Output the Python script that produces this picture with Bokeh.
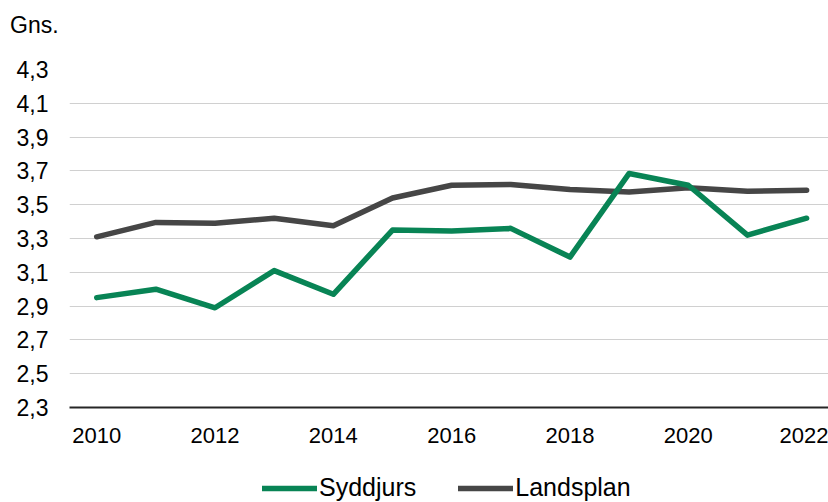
from bokeh.plotting import figure
from bokeh.layouts import column
from bokeh.models import Range1d, FixedTicker, Legend, LegendItem, ColumnDataSource, Div
from bokeh.embed import file_html
from bokeh.resources import INLINE

years = [2010, 2011, 2012, 2013, 2014, 2015, 2016, 2017, 2018, 2019, 2020, 2021, 2022]
syddjurs = [2.95, 3.00, 2.89, 3.11, 2.97, 3.35, 3.345, 3.36, 3.19, 3.685, 3.615, 3.32, 3.42]
landsplan = [3.31, 3.395, 3.39, 3.42, 3.375, 3.54, 3.615, 3.62, 3.59, 3.575, 3.60, 3.58, 3.585]
y_ticks = [2.3, 2.5, 2.7, 2.9, 3.1, 3.3, 3.5, 3.7, 3.9, 4.1, 4.3]
y_tick_labels = ["2,3", "2,5", "2,7", "2,9", "3,1", "3,3", "3,5", "3,7", "3,9", "4,1", "4,3"]
x_ticks = [2010, 2012, 2014, 2016, 2018, 2020, 2022]
series_names = ["Syddjurs", "Landsplan"]
colors = ["#088455", "#464646"]
y_title = "Gns."

FONT = "Liberation Sans"
FS = "22px"

src = ColumnDataSource(dict(x=years, s=syddjurs, l=landsplan))

# unit title above the plot
title_div = Div(text=y_title, width=828, height=40, margin=(0, 0, 0, 0),
                styles={"font-family": FONT, "font-size": "23px", "color": "#000000",
                        "padding-left": "10px", "padding-top": "12px",
                        "line-height": "normal", "box-sizing": "border-box"})

p = figure(width=828, height=412, output_backend="svg", toolbar_location=None,
           x_range=Range1d(2009.54, 2022.37), y_range=Range1d(2.3, 4.3),
           min_border_left=69, min_border_right=0, min_border_top=29, min_border_bottom=45)
p.outline_line_color = None
p.background_fill_color = "white"
p.border_fill_color = "white"

line_kw = dict(line_width=5.5, line_cap="round", line_join="round")
r2 = p.line("x", "l", source=src, line_color=colors[1], **line_kw)
r1 = p.line("x", "s", source=src, line_color=colors[0], **line_kw)

p.xgrid.grid_line_color = None
p.ygrid.grid_line_color = "#d0d0d0"
p.ygrid.grid_line_width = 1

p.yaxis.ticker = FixedTicker(ticks=y_ticks)
p.yaxis.major_label_overrides = {t: lab for t, lab in zip(y_ticks, y_tick_labels)}
p.yaxis.axis_line_color = None
p.yaxis.major_tick_line_color = None
p.yaxis.minor_tick_line_color = None
p.yaxis.major_tick_out = 0
p.yaxis.major_tick_in = 0
p.yaxis.major_label_standoff = 21
p.yaxis.major_label_text_font = FONT
p.yaxis.major_label_text_font_size = "23px"
p.yaxis.major_label_text_color = "#000000"

p.xaxis.ticker = FixedTicker(ticks=x_ticks)
p.xaxis.axis_line_color = "#262626"
p.xaxis.axis_line_width = 2
p.xaxis.major_tick_line_color = None
p.xaxis.minor_tick_line_color = None
p.xaxis.major_tick_out = 0
p.xaxis.major_tick_in = 0
p.xaxis.major_label_standoff = 20
p.xaxis.major_label_text_font = FONT
p.xaxis.major_label_text_font_size = FS
p.xaxis.major_label_text_color = "#000000"

# strip holding the legend (its lines use the same data, outside this strip's view)
lf = figure(width=828, height=50, output_backend="svg", toolbar_location=None,
            x_range=Range1d(0, 1), y_range=Range1d(0, 1),
            min_border_left=69, min_border_right=0, min_border_top=0, min_border_bottom=0)
lf.outline_line_color = None
lf.axis.visible = False
lf.grid.visible = False
lr1 = lf.line("x", "s", source=src, line_color=colors[0], **line_kw)
lr2 = lf.line("x", "l", source=src, line_color=colors[1], **line_kw)

legend = Legend(items=[LegendItem(label=series_names[0], renderers=[lr1]),
                       LegendItem(label=series_names[1], renderers=[lr2])],
                orientation="horizontal", location=(193, 0))
legend.label_text_font = FONT
legend.label_text_font_size = "25px"
legend.label_text_color = "#000000"
legend.glyph_width = 55
legend.glyph_height = 20
legend.label_standoff = 2
legend.spacing = 42
legend.padding = 0
legend.margin = 0
legend.border_line_color = None
legend.background_fill_alpha = 0
lf.add_layout(legend)

layout = column(title_div, p, lf, spacing=0)
open("out.html", "w").write(file_html(layout, INLINE))
